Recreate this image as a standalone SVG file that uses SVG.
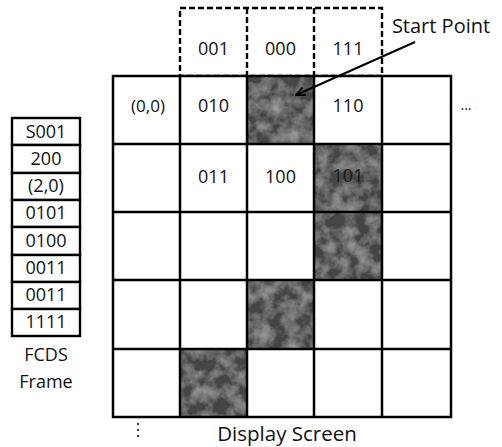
<svg xmlns="http://www.w3.org/2000/svg" width="502" height="447" viewBox="0 0 502 447">
<defs>
<style>
text{font-family:"Open Sans","Noto Sans",sans-serif;fill:#111;}
.lbl{font-size:18px;text-anchor:middle;}
.fr{font-size:18px;text-anchor:middle;}
.dash{fill:none;stroke:#000;stroke-width:2.4;stroke-dasharray:6 3;}
.box{fill:#fff;stroke:#000;stroke-width:2.4;}
.shade{fill:#454545;filter:url(#grain);}
</style>
<filter id="grain" x="0" y="0" width="1" height="1">
<feTurbulence type="fractalNoise" baseFrequency="0.07" numOctaves="4" seed="11" result="n"/>
<feColorMatrix in="n" type="matrix" values="0 0 0 0 0.55  0 0 0 0 0.55  0 0 0 0 0.55  0 0 0 -1.0 0.65" result="m"/>
<feComposite in="m" in2="SourceGraphic" operator="in" result="mm"/>
<feMerge><feMergeNode in="SourceGraphic"/><feMergeNode in="mm"/></feMerge>
</filter>
<marker id="ah" markerWidth="10" markerHeight="10" refX="9" refY="5" orient="auto" markerUnits="userSpaceOnUse">
<path d="M0,1 L9,5 L0,9" fill="none" stroke="#000" stroke-width="1.8"/>
</marker>
</defs>

<g id="dashed-header">
<rect class="dash" x="180" y="8" width="202" height="68"/>
<line class="dash" x1="247" y1="8" x2="247" y2="76"/>
<line class="dash" x1="314" y1="8" x2="314" y2="76"/>
<text class="lbl" x="213.5" y="55">001</text>
<text class="lbl" x="280.5" y="55">000</text>
<text class="lbl" x="348" y="55">111</text>
</g>

<g id="display-grid">
<rect x="113" y="76" width="338" height="341" fill="#fff"/>
<rect class="shade" x="247" y="76" width="67" height="68"/>
<rect class="shade" x="314" y="144" width="68" height="68"/>
<rect class="shade" x="314" y="212" width="68" height="68"/>
<rect class="shade" x="247" y="280" width="67" height="69"/>
<rect class="shade" x="180" y="349" width="67" height="68"/>
<g stroke="#000" stroke-width="2.5" fill="none">
<rect x="113" y="76" width="338" height="341"/>
<line x1="180" y1="76" x2="180" y2="417"/>
<line x1="247" y1="76" x2="247" y2="417"/>
<line x1="314" y1="76" x2="314" y2="417"/>
<line x1="382" y1="76" x2="382" y2="417"/>
<line x1="113" y1="144" x2="451" y2="144"/>
<line x1="113" y1="212" x2="451" y2="212"/>
<line x1="113" y1="280" x2="451" y2="280"/>
<line x1="113" y1="349" x2="451" y2="349"/>
</g>
<text class="lbl" x="148" y="112" style="font-size:17px">(0,0)</text>
<text class="lbl" x="213.5" y="112">010</text>
<text class="lbl" x="348" y="112">110</text>
<text class="lbl" x="213.5" y="183">011</text>
<text class="lbl" x="280.5" y="183">100</text>
<text class="lbl" x="348" y="182" style="fill:#1a1a1a">101</text>
<text x="466" y="110" style="font-size:14px;text-anchor:middle">...</text>
<g fill="#000">
<circle cx="138" cy="424" r="1"/>
<circle cx="138" cy="430" r="1"/>
<circle cx="138" cy="436" r="1"/>
</g>
<text x="287" y="441" style="font-size:20.5px;text-anchor:middle">Display Screen</text>
</g>

<g id="start-point">
<text x="441" y="33" style="font-size:20px;text-anchor:middle">Start Point</text>
</g>

<g id="connectors">
<line x1="415" y1="42" x2="296" y2="95" stroke="#000" stroke-width="2" marker-end="url(#ah)"/>
</g>

<g id="fcds-frame">
<rect class="box" x="12" y="118" width="68" height="27"/>
<rect class="box" x="12" y="145" width="68" height="28"/>
<rect class="box" x="12" y="173" width="68" height="27"/>
<rect class="box" x="12" y="200" width="68" height="27"/>
<rect class="box" x="12" y="227" width="68" height="28"/>
<rect class="box" x="12" y="255" width="68" height="27"/>
<rect class="box" x="12" y="282" width="68" height="27"/>
<rect class="box" x="12" y="309" width="68" height="27"/>
<text class="fr" x="46" y="138">S001</text>
<text class="fr" x="46" y="165">200</text>
<text class="fr" x="46" y="192">(2,0)</text>
<text class="fr" x="46" y="219">0101</text>
<text class="fr" x="46" y="247">0100</text>
<text class="fr" x="46" y="274">0011</text>
<text class="fr" x="46" y="301">0011</text>
<text class="fr" x="46" y="328">1111</text>
<text class="fr" x="46" y="361">FCDS</text>
<text class="fr" x="46" y="388">Frame</text>
</g>
</svg>
